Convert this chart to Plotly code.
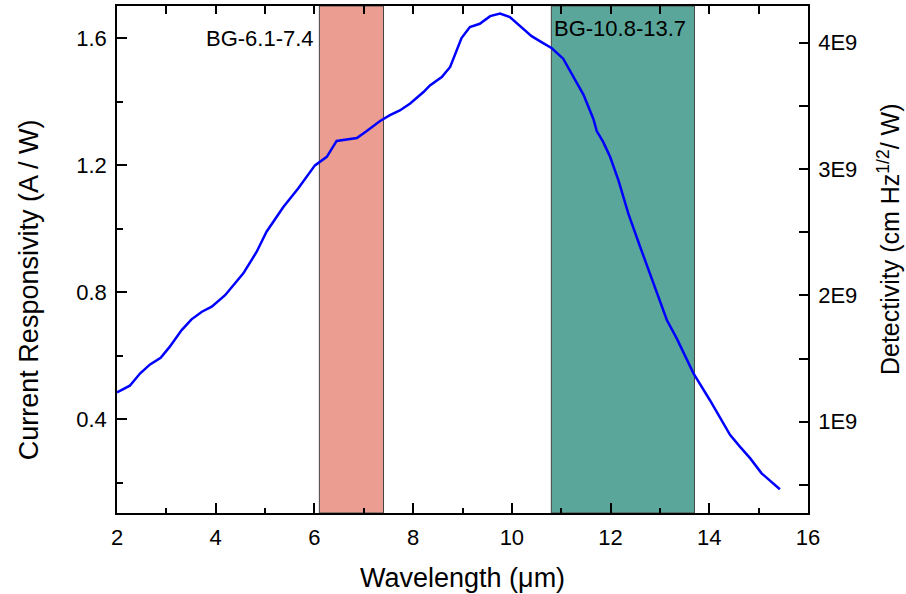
import plotly.graph_objects as go

# ---- data ----
wavelength = [2.0, 2.26, 2.47, 2.67, 2.885, 3.07, 3.31, 3.51, 3.72, 3.92,
              4.19, 4.56, 4.83, 5.03, 5.37, 5.67, 6.01, 6.25, 6.45, 6.86,
              7.06, 7.33, 7.53, 7.73, 7.94, 8.21, 8.34, 8.58, 8.75, 8.85,
              8.98, 9.15, 9.35, 9.56, 9.76, 9.96, 10.16, 10.40, 10.60, 10.81,
              11.04, 11.24, 11.45, 11.65, 11.72, 11.85, 11.99, 12.16, 12.36, 12.60,
              12.77, 12.97, 13.14, 13.34, 13.54, 13.68, 14.01, 14.22, 14.42, 14.62,
              14.83, 15.06, 15.43]
responsivity = [0.485, 0.506, 0.545, 0.573, 0.594, 0.629, 0.681, 0.715, 0.739, 0.755,
                0.791, 0.860, 0.928, 0.991, 1.069, 1.127, 1.200, 1.227, 1.277, 1.286,
                1.308, 1.340, 1.358, 1.373, 1.395, 1.431, 1.452, 1.478, 1.510, 1.547,
                1.601, 1.636, 1.646, 1.670, 1.678, 1.667, 1.641, 1.607, 1.588, 1.569,
                1.536, 1.480, 1.423, 1.347, 1.308, 1.274, 1.227, 1.153, 1.048, 0.943,
                0.870, 0.786, 0.713, 0.655, 0.592, 0.545, 0.461, 0.403, 0.351, 0.314,
                0.277, 0.230, 0.180]

band_names = ["BG-6.1-7.4", "BG-10.8-13.7"]
band_start = [6.1, 10.8]
band_end = [7.4, 13.7]
band_colors = ["#EB9D92", "#5AA69A"]

det_tickvals = [1e9, 2e9, 3e9, 4e9]
det_ticktext = ["1E9", "2E9", "3E9", "4E9"]

FONT = "Arial, Liberation Sans, sans-serif"

fig = go.Figure()
fig.add_trace(go.Scatter(x=wavelength, y=responsivity, mode="lines",
                         line=dict(color="#0000FF", width=2.5),
                         showlegend=False, hoverinfo="skip"))
# empty trace so the secondary (top / right) axes get drawn
fig.add_trace(go.Scatter(x=[None], y=[None], xaxis="x2", yaxis="y2", mode="lines",
                         showlegend=False, hoverinfo="skip"))

shapes = []
for s, e, c in zip(band_start, band_end, band_colors):
    shapes.append(dict(type="rect", xref="x", yref="paper", x0=s, x1=e, y0=0, y1=1,
                       fillcolor=c, line=dict(color="#444444", width=1), layer="below"))

annotations = [
    dict(text=band_names[0], x=band_start[0], y=0.936, xref="x", yref="paper",
         xanchor="right", yanchor="middle", xshift=-3, showarrow=False,
         font=dict(family=FONT, size=22, color="black")),
    dict(text=band_names[1], x=band_start[1], y=0.956, xref="x", yref="paper",
         xanchor="left", yanchor="middle", xshift=1, showarrow=False,
         font=dict(family=FONT, size=22, color="black")),
    dict(text="Current Responsivity (A / W)", x=-0.127, y=0.44, xref="paper", yref="paper",
         textangle=-90, showarrow=False, xanchor="center", yanchor="middle",
         font=dict(family=FONT, size=27, color="black")),
    dict(text="Detectivity (cm Hz<sup>1/2</sup>/ W)", x=1.117, y=0.54, xref="paper", yref="paper",
         textangle=-90, showarrow=False, xanchor="center", yanchor="middle",
         font=dict(family=FONT, size=25, color="black")),
    dict(text="Wavelength (\u03bcm)", x=0.5, y=-0.128, xref="paper", yref="paper",
         showarrow=False, xanchor="center", yanchor="middle",
         font=dict(family=FONT, size=27, color="black")),
]

axis_common = dict(showline=True, linecolor="black", linewidth=1.5, showgrid=False,
                   zeroline=False, ticks="inside", tickcolor="black", tickwidth=1.5)

fig.update_layout(
    width=906, height=594,
    margin=dict(l=117, r=98, t=6, b=81),
    paper_bgcolor="white", plot_bgcolor="white",
    font=dict(family=FONT, size=22, color="black"),
    shapes=shapes, annotations=annotations,
    xaxis=dict(range=[2, 16], tick0=2, dtick=2, ticklen=10,
               minor=dict(ticks="inside", dtick=1, ticklen=5, tickcolor="black", tickwidth=1.5),
               ticklabelstandoff=4, **axis_common),
    xaxis2=dict(range=[2, 16], overlaying="x", side="top", tick0=2, dtick=1, ticklen=8,
                showticklabels=False, **axis_common),
    yaxis=dict(range=[0.105, 1.702], tick0=0.4, dtick=0.4, ticklen=10, tickformat=".1f",
               minor=dict(ticks="inside", dtick=0.2, ticklen=6, tickcolor="black", tickwidth=1.5),
               ticklabelstandoff=4, **axis_common),
    yaxis2=dict(range=[0.278e9, 4.289e9], overlaying="y", side="right",
                tickvals=det_tickvals, ticktext=det_ticktext, ticklen=9,
                minor=dict(ticks="inside", dtick=0.5e9, ticklen=9, tickcolor="black", tickwidth=1.5),
                ticklabelstandoff=4, **axis_common),
)

fig.write_html("out.html")
